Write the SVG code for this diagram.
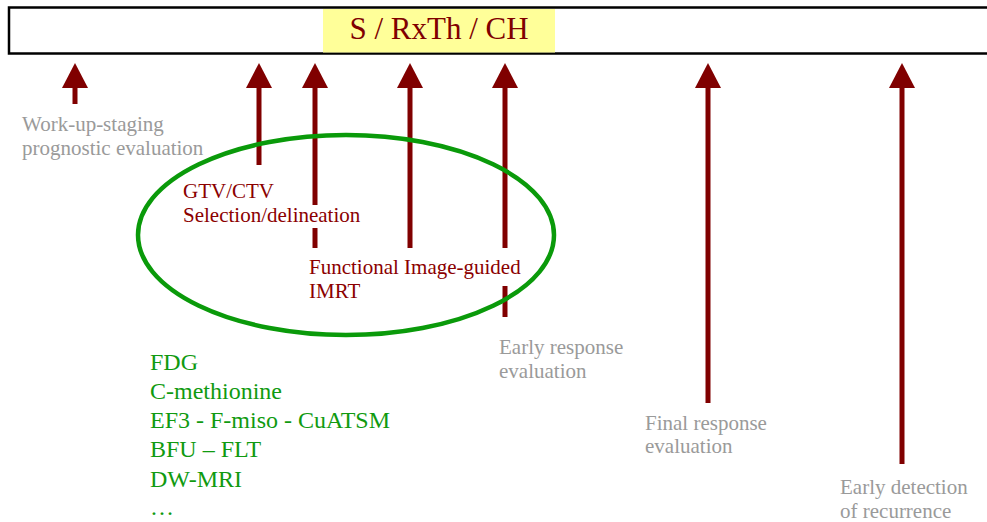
<svg xmlns="http://www.w3.org/2000/svg" width="987" height="522" viewBox="0 0 987 522">
  <style>
    .t { font-family: "Liberation Serif", "Times New Roman", serif; }
    .gray { fill: #9a9a9a; font-size: 21px; }
    .red { fill: #8b0000; font-size: 21px; }
    .green { fill: #109a10; font-size: 24px; }
    .shaft { stroke: #800000; stroke-width: 5; fill: none; }
    .head { fill: #800000; }
  </style>
  <defs>
    <path id="ah" d="M0,0 L-13,25 L13,25 Z"/>
  </defs>
  <rect width="987" height="522" fill="#ffffff"/>

  <!-- treatment bar -->
  <g id="bar">
    <rect x="9" y="7.5" width="990" height="46" fill="#ffffff" stroke="#000000" stroke-width="2.5"/>
    <rect x="323" y="9" width="232" height="43.5" fill="#ffff99"/>
    <text class="t" x="439" y="39" text-anchor="middle" font-size="31" fill="#800000">S / RxTh / CH</text>
  </g>

  <!-- arrows pointing at the bar -->
  <g id="connectors">
    <line class="shaft" x1="75" y1="80" x2="75" y2="104"/>
    <use href="#ah" class="head" x="75" y="63"/>
    <line class="shaft" x1="259" y1="80" x2="259" y2="165"/>
    <use href="#ah" class="head" x="259" y="63"/>
    <line class="shaft" x1="315" y1="80" x2="315" y2="205"/>
    <line class="shaft" x1="315" y1="228" x2="315" y2="248"/>
    <use href="#ah" class="head" x="315" y="63"/>
    <line class="shaft" x1="410" y1="80" x2="410" y2="248"/>
    <use href="#ah" class="head" x="410" y="63"/>
    <line class="shaft" x1="505" y1="80" x2="505" y2="248"/>
    <line class="shaft" x1="505" y1="286" x2="505" y2="317"/>
    <use href="#ah" class="head" x="505" y="63"/>
    <line class="shaft" x1="708" y1="80" x2="708" y2="403"/>
    <use href="#ah" class="head" x="708" y="63"/>
    <line class="shaft" x1="902" y1="80" x2="902" y2="464"/>
    <use href="#ah" class="head" x="902" y="63"/>
  </g>

  <!-- imaging-guided planning group -->
  <g id="planning-ellipse">
    <ellipse cx="346" cy="235" rx="208" ry="100" fill="none" stroke="#0a9a0a" stroke-width="4.5"/>
  </g>

  <g id="work-up">
    <text class="t gray" x="22" y="131">Work-up-staging</text>
    <text class="t gray" x="22" y="155">prognostic evaluation</text>
  </g>
  <g id="gtv-ctv">
    <text class="t red" x="183" y="198">GTV/CTV</text>
    <text class="t red" x="183" y="222">Selection/delineation</text>
  </g>
  <g id="imrt">
    <text class="t red" x="309" y="274">Functional Image-guided</text>
    <text class="t red" x="309" y="298">IMRT</text>
  </g>
  <g id="early-response">
    <text class="t gray" x="499" y="354">Early response</text>
    <text class="t gray" x="499" y="378">evaluation</text>
  </g>
  <g id="final-response">
    <text class="t gray" x="645" y="430">Final response</text>
    <text class="t gray" x="645" y="453">evaluation</text>
  </g>
  <g id="recurrence">
    <text class="t gray" x="840" y="494">Early detection</text>
    <text class="t gray" x="840" y="518">of recurrence</text>
  </g>

  <g id="tracers">
    <text class="t green" x="150" y="370">FDG</text>
    <text class="t green" x="150" y="399">C-methionine</text>
    <text class="t green" x="150" y="428">EF3 - F-miso - CuATSM</text>
    <text class="t green" x="150" y="457">BFU – FLT</text>
    <text class="t green" x="150" y="487">DW-MRI</text>
    <text class="t green" x="150" y="515">…</text>
  </g>
</svg>
